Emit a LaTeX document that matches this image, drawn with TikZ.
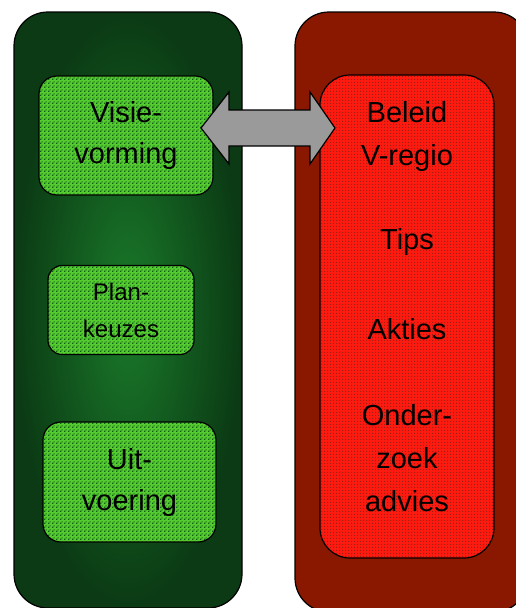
\documentclass[tikz,border=0pt]{standalone}
\usepackage{fontspec}
\setmainfont{Liberation Sans}
\usetikzlibrary{patterns}
\pgfdeclarepatternformonly{gdots}{\pgfqpoint{0pt}{0pt}}{\pgfqpoint{4pt}{4pt}}{\pgfqpoint{4pt}{4pt}}{%
  \pgfpathrectangle{\pgfqpoint{0pt}{0pt}}{\pgfqpoint{1.8pt}{1.8pt}}%
  \pgfpathrectangle{\pgfqpoint{2pt}{2pt}}{\pgfqpoint{1.3pt}{1.3pt}}%
  \pgfusepath{fill}}
\pgfdeclarepatternformonly{rdots}{\pgfqpoint{0pt}{0pt}}{\pgfqpoint{3pt}{3pt}}{\pgfqpoint{3pt}{3pt}}{%
  \pgfpathrectangle{\pgfqpoint{0pt}{0pt}}{\pgfqpoint{1.4pt}{1.4pt}}%
  \pgfusepath{fill}}
\definecolor{gdark}{HTML}{0B3A14}
\definecolor{gmid}{HTML}{1A7A2A}
\definecolor{gbox}{HTML}{55CC2E}
\definecolor{gpat}{HTML}{0F5E18}
\definecolor{rdark}{HTML}{8A1800}
\definecolor{rbox}{HTML}{FF1A10}
\definecolor{rpat}{HTML}{A01E12}
\definecolor{agray}{HTML}{9A9A9A}
\tikzset{
  gbx/.style={draw=black, line width=1.2pt, rounded corners=18pt,
    preaction={fill=gbox}, pattern=gdots, pattern color=gpat,
    align=center, inner sep=0pt, font=\fontsize{29}{41}\selectfont},
  lbl/.style={align=center, font=\fontsize{29}{43}\selectfont, inner sep=0pt}
}
\begin{document}
\begin{tikzpicture}[x=1pt,y=-1pt]
\useasboundingbox (0,0) rectangle (515,608);
% left column
\path[draw=black, line width=1.2pt, rounded corners=34pt, outer color=gdark, inner color=gmid]
  (14,12) rectangle (242,608);
% right column
\path[draw=black, fill=rdark, line width=1.2pt, rounded corners=34pt]
  (295,12) rectangle (528,612);
% red inner box
\node[draw=black, line width=1.2pt, rounded corners=30pt, preaction={fill=rbox},
  pattern=rdots, pattern color=rpat, minimum width=174pt, minimum height=483pt, inner sep=0pt]
  (red) at (407,316.5) {};
% green boxes
\node[gbx, minimum width=174pt, minimum height=119pt] (visie) at (126,135.5) {Visie-\\vorming};
\node[gbx, minimum width=146pt, minimum height=89pt, rounded corners=14pt,
  font=\fontsize{24}{37}\selectfont] (plan) at (121,310) {Plan-\\keuzes};
\node[gbx, minimum width=173pt, minimum height=120pt] (uit) at (129.5,482) {Uit-\\voering};
% red texts
\node[lbl] (beleid) at (407,136) {Beleid\\V-regio};
\node[lbl] (tips) at (407,242) {Tips};
\node[lbl] (akties) at (407,329) {Akties};
\node[lbl] (onder) at (407,458) {Onder-\\zoek\\advies};
% double arrow
\draw[line width=1.2pt, fill=agray, line join=miter]
  (201,128) -- (229,92) -- (229,110) -- (310,110) -- (310,92) -- (335,128)
  -- (310,164) -- (310,146) -- (229,146) -- (229,164) -- cycle;
\end{tikzpicture}
\end{document}
